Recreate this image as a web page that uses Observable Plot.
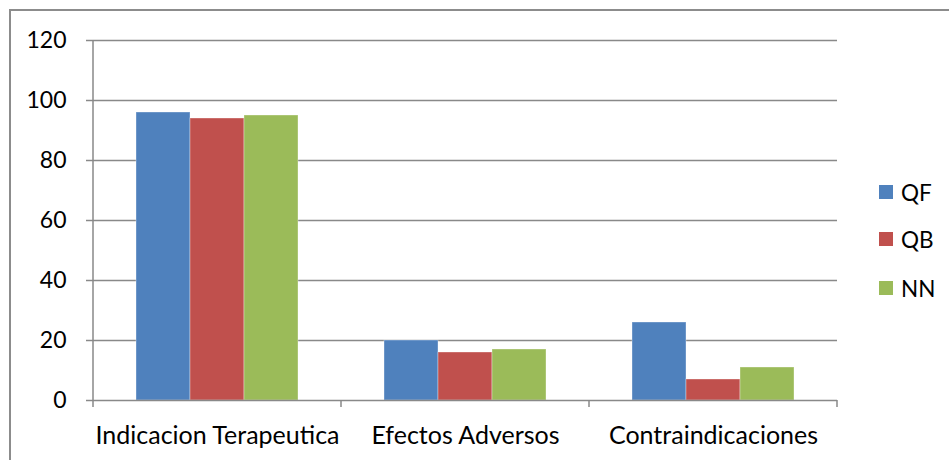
<!DOCTYPE html>
<html><head><meta charset="utf-8">
<script src="https://cdn.jsdelivr.net/npm/d3@7"></script>
<script src="https://cdn.jsdelivr.net/npm/@observablehq/plot@0.6"></script>
<style>
body{margin:0;background:#fff;}
#wrap{position:relative;width:949px;height:460px;overflow:hidden;font-family:Lato,"Open Sans",sans-serif;}
#border{position:absolute;left:9px;top:9px;width:960px;height:480px;border-left:2px solid #8c8c8c;border-top:2px solid #8c8c8c;z-index:5;pointer-events:none;}
.lg{position:absolute;left:879px;display:flex;align-items:center;font-size:22.5px;color:#000;height:26px;}
.sw{width:14px;height:14px;margin-right:8px;}
#chart{position:absolute;left:0;top:0;}
</style></head>
<body><div id="wrap"><div id="border"></div><div id="chart"></div></div>
<script>
const categories = ["Indicacion Terapeutica", "Efectos Adversos", "Contraindicaciones"];
const series = ["QF", "QB", "NN"];
const colors = ["#4F81BD", "#C0504D", "#9BBB59"];
const qfValues = [96, 20, 26];
const qbValues = [94, 16, 7];
const nnValues = [95, 17, 11];
const yTicks = [0, 20, 40, 60, 80, 100, 120];

const valuesBySeries = [qfValues, qbValues, nnValues];
const data = [];
categories.forEach((c, i) => series.forEach((s, j) => data.push({category: c, series: s, value: valuesBySeries[j][i]})));

const grid = "#898989";
const chart = Plot.plot({
  width: 949, height: 460,
  marginLeft: 92, marginRight: 112, marginTop: 40, marginBottom: 60,
  style: {fontFamily: "Lato, 'Open Sans', sans-serif", fontSize: "22px", color: "#000", background: "transparent", overflow: "visible"},
  fx: {domain: categories, padding: 0, label: null, axis: null},
  x: {domain: series, paddingInner: 0, paddingOuter: 0.757, axis: null},
  y: {domain: [0, 120], axis: null},
  color: {domain: series, range: colors},
  marks: [
    Plot.ruleY(yTicks.slice(1), {stroke: grid, strokeWidth: 1.5}),
    Plot.barY(data, {fx: "category", x: "series", y: "value", fill: "series", stroke: "#ffffff", strokeOpacity: 0.35, strokeWidth: 1}),
    Plot.ruleY([0], {stroke: grid, strokeWidth: 1.5}),
    Plot.axisY({ticks: yTicks, tickSize: 7, tickPadding: 20, label: null, stroke: grid, strokeWidth: 1.5, fill: "#000", fontSize: 23}),
    Plot.axisFx({anchor: "bottom", tickSize: 0, tickPadding: 26, label: null, fill: "#000", fontSize: 25})
  ]
});
document.getElementById("chart").appendChild(chart);

// category boundary ticks and vertical axis line from the library's scales
const fx = chart.scale("fx"), y = chart.scale("y");
const svg = d3.select(chart);
const y0 = y.apply(0), y1 = y.apply(120);
const g = svg.append("g").attr("stroke", grid).attr("stroke-width", 1.5);
const left = fx.apply(categories[0]);
g.append("line").attr("x1", left).attr("x2", left).attr("y1", y1).attr("y2", y0 + 7);
categories.forEach(c => {
  const xr = fx.apply(c) + fx.bandwidth;
  g.append("line").attr("x1", xr).attr("x2", xr).attr("y1", y0).attr("y2", y0 + 7);
});

// legend
const legendY = [192, 239, 288];
series.forEach((s, i) => {
  const d = document.createElement("div");
  d.className = "lg";
  d.style.top = (legendY[i] - 13) + "px";
  d.innerHTML = `<div class="sw" style="background:${colors[i]}"></div><span>${s}</span>`;
  document.getElementById("wrap").appendChild(d);
});
</script>
</body></html>
